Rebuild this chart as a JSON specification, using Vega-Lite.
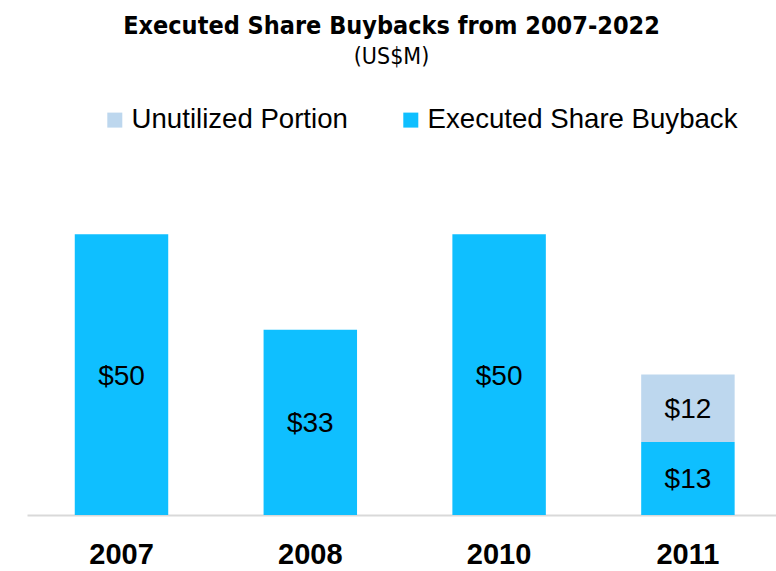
{
  "$schema": "https://vega.github.io/schema/vega-lite/v6.json",
  "width": 749,
  "height": 337,
  "autosize": {"type": "none"},
  "padding": {"left": 27, "top": 178, "right": 0, "bottom": 56},
  "background": "white",
  "title": {
    "text": "Executed Share Buybacks from 2007-2022",
    "subtitle": "(US$M)",
    "font": "DejaVu Sans Condensed",
    "fontSize": 25,
    "fontWeight": "bold",
    "color": "black",
    "subtitleFont": "DejaVu Sans Condensed",
    "subtitleFontSize": 23,
    "subtitleColor": "black",
    "subtitlePadding": 7,
    "anchor": "middle",
    "frame": "group",
    "offset": 37,
    "dx": -10
  },
  "data": {
    "values": [
      {"year": "2007", "type": "Executed Share Buyback", "value": 50},
      {"year": "2008", "type": "Executed Share Buyback", "value": 33},
      {"year": "2010", "type": "Executed Share Buyback", "value": 50},
      {"year": "2011", "type": "Executed Share Buyback", "value": 13},
      {"year": "2011", "type": "Unutilized Portion", "value": 12}
    ]
  },
  "encoding": {
    "x": {
      "field": "year",
      "type": "nominal",
      "scale": {"paddingInner": 0.505, "paddingOuter": 0.236, "align": 0.536},
      "axis": {
        "title": null,
        "labelAngle": 0,
        "labelFont": "Liberation Sans",
        "labelFontSize": 29,
        "labelFontWeight": "bold",
        "labelColor": "black",
        "labelPadding": 25,
        "ticks": false,
        "domainColor": "#d9d9d9",
        "domainWidth": 2
      }
    },
    "y": {
      "field": "value",
      "type": "quantitative",
      "stack": "zero",
      "scale": {"domain": [0, 60]},
      "axis": null
    },
    "order": {"field": "type", "sort": "ascending"}
  },
  "layer": [
    {
      "mark": {"type": "bar"},
      "encoding": {
        "color": {
          "field": "type",
          "type": "nominal",
          "scale": {
            "domain": ["Unutilized Portion", "Executed Share Buyback"],
            "range": ["#BDD7EE", "#0FBFFF"]
          },
          "legend": {
            "orient": "none",
            "legendX": 74,
            "legendY": -72,
            "direction": "horizontal",
            "title": null,
            "symbolType": "square",
            "symbolSize": 225,
            "symbolStrokeWidth": 0,
            "labelFont": "Liberation Sans",
            "labelFontSize": 27.6,
            "labelColor": "black",
            "labelOffset": 3,
            "labelLimit": 0,
            "columnPadding": 49,
            "padding": 0
          }
        }
      }
    },
    {
      "mark": {"type": "text", "font": "Liberation Sans", "fontSize": 28, "color": "black", "dy": 2},
      "encoding": {
        "y": {"field": "value", "type": "quantitative", "stack": "zero", "bandPosition": 0.5},
        "detail": {"field": "type"},
        "text": {"field": "value", "type": "quantitative", "format": "$.0f"}
      }
    }
  ],
  "config": {"view": {"stroke": null}}
}
